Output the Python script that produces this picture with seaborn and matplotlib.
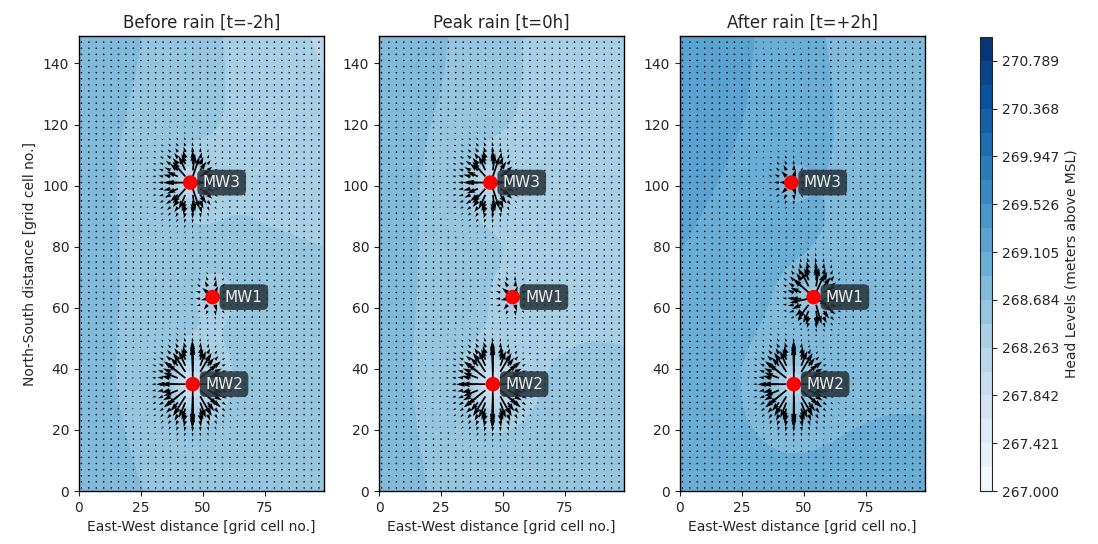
import numpy as np
import matplotlib
matplotlib.use("Agg")
import matplotlib.pyplot as plt
import seaborn as sns

sns.set_style("ticks")
plt.rcParams["font.family"] = ["DejaVu Sans"]

# Model grid (cells)
nx, ny = 100, 150

# Monitoring wells: name, x, y
well_names = ["MW1", "MW2", "MW3"]
well_x = [54.0, 46.0, 45.0]
well_y = [63.5, 35.0, 101.0]

panel_titles = ["Before rain [t=-2h]", "Peak rain [t=0h]", "After rain [t=+2h]"]

# Regional head (m above MSL) at control points, rows from south (y=0)
# to north (y=149), columns from west (x=0) to east (x=99)
ctrl_x = [0, 25, 50, 75, 99]
ctrl_y = [0, 37, 75, 112, 149]
regional_before = [
    [268.82, 268.72, 268.64, 268.68, 268.68],
    [268.80, 268.70, 268.66, 268.60, 268.58],
    [268.78, 268.70, 268.62, 268.56, 268.52],
    [268.76, 268.70, 268.58, 268.44, 268.34],
    [268.76, 268.70, 268.54, 268.38, 268.24],
]
regional_peak = [
    [268.82, 268.68, 268.62, 268.64, 268.64],
    [268.80, 268.68, 268.62, 268.56, 268.52],
    [268.80, 268.68, 268.58, 268.46, 268.44],
    [268.80, 268.70, 268.56, 268.42, 268.38],
    [268.80, 268.72, 268.54, 268.38, 268.34],
]
regional_after = [
    [269.00, 268.98, 268.98, 269.00, 269.00],
    [269.04, 269.00, 269.00, 268.92, 268.88],
    [269.12, 269.04, 269.04, 268.88, 268.82],
    [269.22, 269.12, 269.00, 268.86, 268.78],
    [269.28, 269.16, 268.94, 268.84, 268.76],
]
regional = [regional_before, regional_peak, regional_after]

# Drawdown strength at each well (MW1, MW2, MW3) per time step
drawdown = [
    [0.14, 0.66, 0.40],
    [0.14, 0.66, 0.40],
    [0.40, 0.66, 0.14],
]
cone_radius = 12.0
cone_core = 2.0

# Contour levels for head (m above MSL)
levels = np.linspace(267.0, 271.0, 20)

x = np.arange(nx)
y = np.arange(ny)
X, Y = np.meshgrid(x, y)


def regional_surface(table):
    rows = np.array([np.interp(x, ctrl_x, r) for r in table])
    return np.column_stack([np.interp(y, ctrl_y, rows[:, j]) for j in range(nx)])


def head_field(k):
    h = regional_surface(regional[k])
    for wx, wy, a in zip(well_x, well_y, drawdown[k]):
        rho2 = (X - wx) ** 2 + (Y - wy) ** 2 + cone_core ** 2
        h = h - 0.5 * a * np.log(1 + cone_radius ** 2 / rho2)
    return h


cmap = sns.color_palette("Blues", as_cmap=True)

fig = plt.figure(figsize=(10.98, 5.44), dpi=100)
lefts = [0.0719, 0.3452, 0.6193]
axes = [fig.add_axes([l, 0.0974, 0.2231, 0.8364]) for l in lefts]
cax = fig.add_axes([0.8925, 0.0974, 0.011, 0.8346])

qx = slice(1, None, 3)
qy = slice(1, None, 2)

for k, ax in enumerate(axes):
    H = head_field(k)
    cf = ax.contourf(X, Y, H, levels=levels, cmap=cmap)
    gy, gx = np.gradient(H)
    ax.quiver(X[qy, qx], Y[qy, qx], gx[qy, qx], gy[qy, qx],
              angles="xy", scale_units="xy", scale=0.012, width=0.007,
              color="black")
    sns.scatterplot(x=well_x, y=well_y, ax=ax, color="red", s=110,
                    edgecolor="none", zorder=5, legend=False)
    for name, wx, wy in zip(well_names, well_x, well_y):
        ax.text(wx + 5, wy, name, color="#eeeeee", fontsize=11,
                va="center", ha="left", zorder=6,
                bbox=dict(boxstyle="round,pad=0.35", fc="#263238",
                          ec="none", alpha=0.85))
    ax.set_title(panel_titles[k], fontsize=12)
    ax.set_xlabel("East-West distance [grid cell no.]", fontsize=10)
    ax.set_xticks([0, 25, 50, 75])
    ax.set_yticks(np.arange(0, 141, 20))
    ax.set_xlim(0, nx - 1)
    ax.set_ylim(0, ny - 1)
    ax.tick_params(labelsize=10)
    for s in ax.spines.values():
        s.set_color("black")
        s.set_linewidth(1.0)

axes[0].set_ylabel("North-South distance [grid cell no.]", fontsize=10)

cb = fig.colorbar(cf, cax=cax, ticks=levels[::2])
cb.ax.set_yticklabels([f"{v:.3f}" for v in levels[::2]])
cb.set_label("Head Levels (meters above MSL)", fontsize=10)
cb.ax.tick_params(labelsize=10)

fig.savefig("out.png", dpi=100)
